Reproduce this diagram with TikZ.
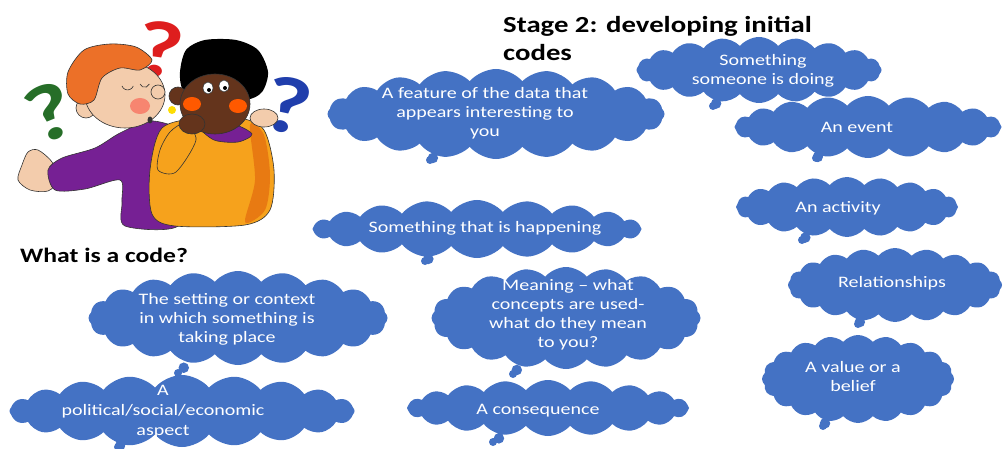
\documentclass[tikz,border=0pt]{standalone}
\usepackage{fontspec}
\setmainfont{Carlito}[FakeStretch=1.25]
\usetikzlibrary{shapes.callouts,shapes.symbols}
\definecolor{cloudblue}{RGB}{68,114,196}
\definecolor{skin}{RGB}{243,204,172}
\definecolor{hairorange}{RGB}{236,112,40}
\definecolor{shirtpurple}{RGB}{118,32,148}
\definecolor{dressorange}{RGB}{246,162,28}
\definecolor{dressdark}{RGB}{232,122,18}
\definecolor{darkskin}{RGB}{100,52,28}
\definecolor{qgreen}{RGB}{38,110,40}
\definecolor{qred}{RGB}{222,30,30}
\definecolor{qblue}{RGB}{32,62,172}

\tikzset{
  bubble/.style={cloud callout, cloud puffs=20, cloud puff arc=100,
    cloud ignores aspect, fill=cloudblue, draw=none, inner sep=0pt,
    callout pointer segments=2,
    callout pointer start size=20pt and 13pt,
    callout pointer end size=11pt and 8pt},
  btext/.style={text=white, font=\fontsize{16}{19}\selectfont,
    align=center, inner sep=0pt},
  heading/.style={font=\bfseries\fontsize{23}{28}\selectfont,
    align=left, inner sep=0pt},
  qmark/.style={font=\bfseries\fontsize{80}{80}\selectfont, inner sep=0pt},
  ink/.style={draw=black!80, line width=0.6pt},
}

\begin{document}
\begin{tikzpicture}[x=1pt,y=-1pt]
\useasboundingbox (0,0) rectangle (1003,449);

% ---- cartoon: two puzzled children ----
\node[qmark, text=qgreen, rotate=22] (qg) at (50,112) {?};
\node[qmark, text=qred, rotate=-8] (qr) at (160,50) {?};
\node[qmark, text=qblue, rotate=-12] (qb) at (288,106) {?};

% boy: purple shirt with outstretched arm
\fill[skin, ink] plot[smooth cycle] coordinates
  {(52,162) (38,150) (28,152) (22,165) (18,180) (30,190) (48,191) (58,180)};
\fill[shirtpurple, ink] plot[smooth cycle] coordinates
  {(178,128) (150,121) (120,133) (95,148) (62,158) (48,170) (55,190)
   (85,189) (120,180) (122,202) (125,226) (178,226) (182,180) (186,140)};
% girl: orange dress
\fill[dressorange, ink] plot[smooth cycle] coordinates
  {(162,128) (150,170) (152,214) (175,226) (245,225) (270,210) (274,170)
   (264,130) (240,118) (200,118)};
\fill[dressdark] plot[smooth cycle] coordinates
  {(250,125) (264,135) (270,175) (265,210) (245,222) (255,180)};
\fill[dressorange, ink] plot[smooth cycle] coordinates
  {(160,150) (158,170) (176,172) (196,140) (184,124) (170,132)};
\fill[shirtpurple, ink] plot[smooth cycle] coordinates
  {(200,126) (232,124) (252,134) (238,142) (214,140)};
\fill[skin, ink] (264,118) ellipse [x radius=14pt, y radius=9pt];

% boy's head
\fill[skin, ink] (86,108) circle [radius=10pt];
\fill[skin, ink] (125,95) ellipse [x radius=40pt, y radius=33pt];
\fill[hairorange, ink] plot[smooth cycle] coordinates
  {(68,72) (84,50) (110,44) (136,47) (152,60) (140,70) (120,68) (102,78)
   (94,100) (80,104) (68,94)};
\fill[red!35!skin] (140,106) ellipse [x radius=10pt, y radius=8pt];
\fill[skin, ink] (158,92) circle [radius=7pt];
\draw[ink] (122,86) arc[start angle=200, end angle=340, radius=6pt];
\draw[ink] (140,84) arc[start angle=200, end angle=340, radius=5pt];
\fill[black!80] (150,120) ellipse [x radius=2.5pt, y radius=3.5pt];

% girl's head
\fill[black] plot[smooth cycle] coordinates
  {(180,72) (186,50) (205,40) (236,40) (258,50) (268,72) (262,92)
   (245,100) (200,100) (183,90)};
\fill[darkskin, ink] (178,96) circle [radius=9pt];
\fill[darkskin, ink] (215,104) ellipse [x radius=35pt, y radius=30pt];
\fill[yellow!80!orange] (172,110) circle [radius=4pt];
\fill[orange!70!red] (192,104) ellipse [x radius=9pt, y radius=7pt];
\fill[orange!70!red] (238,106) ellipse [x radius=9pt, y radius=7pt];
\fill[white, ink] (208,88) ellipse [x radius=5pt, y radius=6pt];
\fill[white, ink] (224,86) ellipse [x radius=5pt, y radius=6pt];
\fill[black] (209,90) circle [radius=2pt];
\fill[black] (225,88) circle [radius=2pt];
\fill[darkskin, ink] (192,124) ellipse [x radius=13pt, y radius=10pt];

% ---- headings ----
\node[heading, anchor=north west] (stage) at (503,16)
  {Stage 2: developing initial\\codes};
\node[heading, anchor=base west, font=\bfseries\fontsize{20.5}{24}\selectfont]
  (what) at (20,262) {What is a code?};

% ---- cloud callouts ----
\node[bubble, minimum width=337pt, minimum height=90pt,
  callout absolute pointer={(430,160)}] (feature) at (496,114) {};
\node[bubble, minimum width=245pt, minimum height=66pt,
  callout absolute pointer={(713,106)}] (doing) at (759,70) {};
\node[bubble, minimum width=267pt, minimum height=62pt,
  callout absolute pointer={(816,158)}] (event) at (868,127) {};
\node[bubble, minimum width=222pt, minimum height=60pt,
  callout absolute pointer={(802,240)}] (activity) at (847,207) {};
\node[bubble, minimum width=214pt, minimum height=74pt,
  callout absolute pointer={(858,324)}] (relations) at (895,285) {};
\node[bubble, minimum width=192pt, minimum height=88pt,
  callout absolute pointer={(823,426)}] (value) at (858,379) {};
\node[bubble, minimum width=329pt, minimum height=58pt,
  callout absolute pointer={(425,261)}] (happening) at (477,229) {};
\node[bubble, minimum width=269pt, minimum height=102pt,
  callout absolute pointer={(513,374)}] (meaning) at (566,318) {};
\node[bubble, minimum width=282pt, minimum height=56pt,
  callout absolute pointer={(493,442)}] (consequence) at (548,408) {};
\node[bubble, minimum width=299pt, minimum height=94pt,
  callout absolute pointer={(178,373)}] (setting) at (238,318) {};
\node[bubble, minimum width=345pt, minimum height=72pt,
  callout absolute pointer={(118,447)}] (political) at (182,411) {};

% ---- cloud texts ----
\node[btext] (featuretxt) at (485,113)
  {A feature of the data that\\appears interesting to\\you};
\node[btext] (doingtxt) at (763,71) {Something\\someone is doing};
\node[btext] (eventtxt) at (857,127) {An event};
\node[btext] (activitytxt) at (838,208) {An activity};
\node[btext] (relationstxt) at (892,283) {Relationships};
\node[btext] (valuetxt) at (853,376) {A value or a\\belief};
\node[btext] (happeningtxt) at (485,228) {Something that is happening};
\node[btext] (meaningtxt) at (568,315)
  {Meaning – what\\concepts are used-\\what do they mean\\to you?};
\node[btext] (consequencetxt) at (538,411) {A consequence};
\node[btext] (settingtxt) at (227,319)
  {The setting or context\\in which something is\\taking place};
\node[btext, font=\fontsize{16}{20}\selectfont] (politicaltxt) at (163,412)
  {A\\political/social/economic\\aspect};
\end{tikzpicture}
\end{document}
